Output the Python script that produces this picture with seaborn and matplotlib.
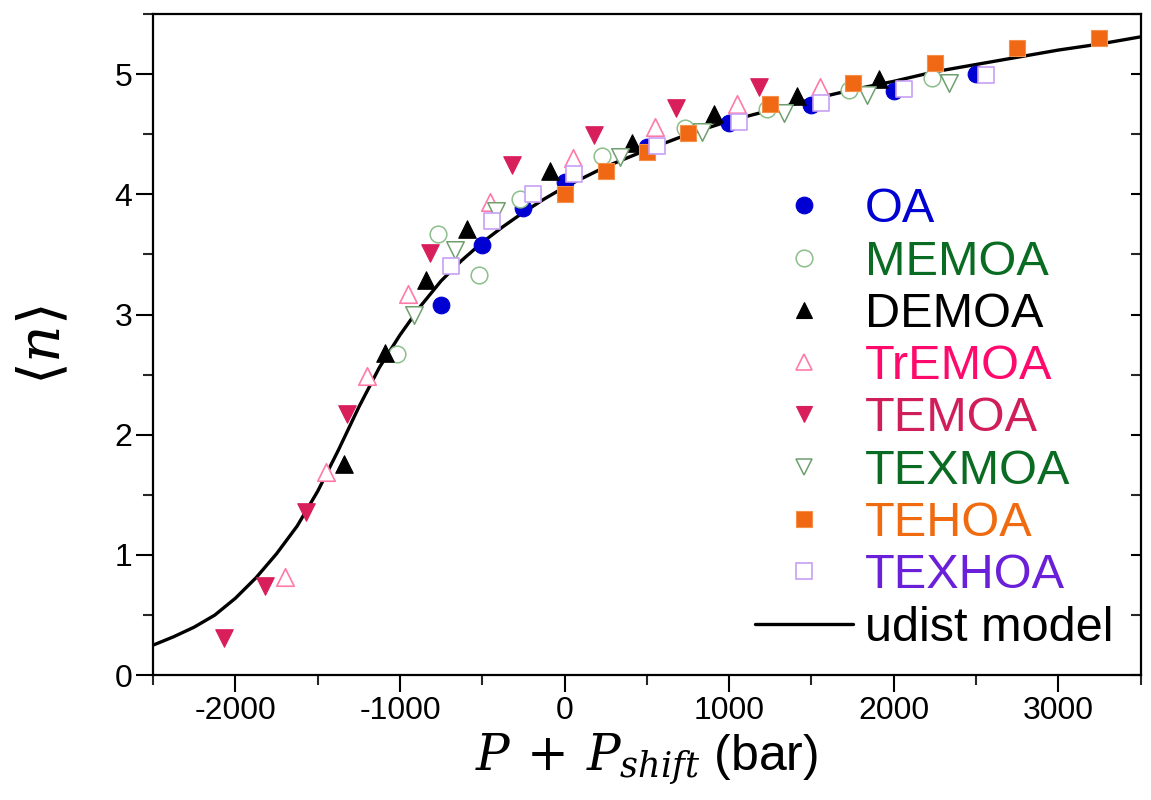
import matplotlib
matplotlib.use("Agg")
import matplotlib.pyplot as plt
import seaborn as sns
import pandas as pd
from matplotlib.lines import Line2D
from matplotlib.ticker import MultipleLocator

# ---------------- data ----------------
series_names = ["OA", "MEMOA", "DEMOA", "TrEMOA", "TEMOA", "TEXMOA", "TEHOA", "TEXHOA"]

OA_x = [-750, -500, -250, 0, 500, 1000, 1500, 2000, 2500]
OA_y = [3.08, 3.58, 3.89, 4.10, 4.39, 4.59, 4.74, 4.86, 5.00]

MEMOA_x = [-1020, -770, -520, -270, 230, 730, 1230, 1730, 2230]
MEMOA_y = [2.67, 3.67, 3.33, 3.96, 4.32, 4.55, 4.71, 4.87, 4.97]

DEMOA_x = [-1340, -1090, -840, -590, -90, 410, 910, 1410, 1910]
DEMOA_y = [1.76, 2.68, 3.29, 3.71, 4.19, 4.43, 4.67, 4.82, 4.96]

TrEMOA_x = [-1700, -1450, -1200, -950, -450, 50, 550, 1050, 1550]
TrEMOA_y = [0.82, 1.69, 2.49, 3.17, 3.94, 4.30, 4.56, 4.75, 4.89]

TEMOA_x = [-2070, -1820, -1570, -1320, -820, -320, 180, 680, 1180]
TEMOA_y = [0.31, 0.74, 1.36, 2.17, 3.51, 4.24, 4.49, 4.72, 4.89]

TEXMOA_x = [-915, -665, -415, 335, 835, 1335, 1835, 2335]
TEXMOA_y = [3.00, 3.54, 3.86, 4.31, 4.52, 4.68, 4.83, 4.93]

TEHOA_x = [0, 250, 500, 750, 1250, 1750, 2250, 2750, 3250]
TEHOA_y = [4.00, 4.19, 4.35, 4.51, 4.75, 4.93, 5.09, 5.22, 5.30]

TEXHOA_x = [-690, -440, -190, 60, 560, 1060, 1560, 2060, 2560]
TEXHOA_y = [3.40, 3.78, 4.00, 4.17, 4.40, 4.60, 4.76, 4.88, 4.99]

model_x = [-2500, -2375, -2250, -2125, -2000, -1875, -1750, -1625, -1500, -1375,
           -1250, -1125, -1000, -875, -750, -625, -500, -375, -250, -125, 0,
           250, 500, 750, 1000, 1250, 1500, 1750, 2000, 2250, 2500, 2750, 3000,
           3250, 3500]
model_y = [0.25, 0.32, 0.40, 0.50, 0.64, 0.81, 1.01, 1.24, 1.53, 1.87,
           2.23, 2.56, 2.83, 3.07, 3.28, 3.45, 3.60, 3.73, 3.85, 3.96, 4.06,
           4.23, 4.37, 4.50, 4.61, 4.70, 4.79, 4.87, 4.94, 5.02, 5.08, 5.14, 5.20,
           5.25, 5.31]
model_label = "udist model"

x_ticks = [-2000, -1000, 0, 1000, 2000, 3000]
y_ticks = [0, 1, 2, 3, 4, 5]

# ---------------- styles ----------------
styles = {
    "OA":     dict(marker="o", fc="#0000d2", ec="#0000d2", lw=0.8, txt="#0000d2"),
    "MEMOA":  dict(marker="o", fc="white",   ec="#8cbf8c", lw=1.1, txt="#0a6b22"),
    "DEMOA":  dict(marker="^", fc="black",   ec="black",   lw=0.8, txt="black"),
    "TrEMOA": dict(marker="^", fc="white",   ec="#ff7aa8", lw=1.2, txt="#ff0a6c"),
    "TEMOA":  dict(marker="v", fc="#d81e5b", ec="#d81e5b", lw=0.8, txt="#d01e5a"),
    "TEXMOA": dict(marker="v", fc="white",   ec="#6f9f6f", lw=1.1, txt="#0a6b22"),
    "TEHOA":  dict(marker="s", fc="#f06813", ec="#f5904a", lw=0.8, txt="#f06a10"),
    "TEXHOA": dict(marker="s", fc="white",   ec="#c8a0f5", lw=1.2, txt="#6a1fd8"),
}
data = {
    "OA": (OA_x, OA_y), "MEMOA": (MEMOA_x, MEMOA_y), "DEMOA": (DEMOA_x, DEMOA_y),
    "TrEMOA": (TrEMOA_x, TrEMOA_y), "TEMOA": (TEMOA_x, TEMOA_y),
    "TEXMOA": (TEXMOA_x, TEXMOA_y), "TEHOA": (TEHOA_x, TEHOA_y),
    "TEXHOA": (TEXHOA_x, TEXHOA_y),
}

sns.set_theme(style="white")
plt.rcParams["font.family"] = ["Liberation Sans", "DejaVu Sans"]
plt.rcParams["mathtext.fontset"] = "dejavuserif"
plt.rcParams["axes.unicode_minus"] = False
plt.rcParams["text.color"] = "black"
plt.rcParams["axes.labelcolor"] = "black"

fig = plt.figure(figsize=(11.51, 8), dpi=100)
ax = fig.add_axes([0.133, 0.156, 0.858, 0.8265])

msize = 12
sns.lineplot(x=model_x, y=model_y, color="black", linewidth=2.4, ax=ax,
             sort=False, estimator=None, legend=False, zorder=1)

for i, name in enumerate(series_names):
    st = styles[name]
    xs, ys = data[name]
    df = pd.DataFrame({"x": xs, "y": ys})
    ms = msize if st["marker"] in ("o", "s") else msize * 1.05
    sns.scatterplot(data=df, x="x", y="y", marker=st["marker"], s=ms ** 2,
                    color=st["fc"], edgecolor=st["ec"], linewidth=st["lw"],
                    ax=ax, legend=False, zorder=3 + i)

ax.set_xlim(-2500, 3500)
ax.set_ylim(0, 5.5)
ax.set_xticks(x_ticks)
ax.set_yticks(y_ticks)
ax.xaxis.set_minor_locator(MultipleLocator(500))
ax.yaxis.set_minor_locator(MultipleLocator(0.5))
ax.xaxis.set_ticks_position("bottom")

for sp in ax.spines.values():
    sp.set_linewidth(1.6)
    sp.set_color("black")

ax.tick_params(axis="both", which="major", direction="out", length=12, width=1.5,
               labelsize=23, colors="black", pad=3)
ax.tick_params(axis="both", which="minor", direction="out", length=7, width=1.5)
ax.tick_params(axis="x", which="both", bottom=True, top=False, labeltop=False)
ax.tick_params(axis="y", which="both", left=True, right=True, labelright=False)
# right side ticks point inward
for t in ax.yaxis.get_major_ticks() + ax.yaxis.get_minor_ticks():
    t.tick2line.set_marker(matplotlib.lines.TICKLEFT)
    t.tick2line.set_markersize(7)

ax.set_xlabel(r"$P\, +\, P_{shift}$ (bar)", fontsize=36, labelpad=4, color="black")
ax.set_ylabel(r"$\langle n \rangle$", fontsize=42, labelpad=30, color="black")

handles = []
for name in series_names:
    st = styles[name]
    handles.append(Line2D([], [], linestyle="none", marker=st["marker"],
                          markersize=msize, markerfacecolor=st["fc"],
                          markeredgecolor=st["ec"], markeredgewidth=st["lw"]))
handles.append(Line2D([], [], color="black", linewidth=2.4))
labels = series_names + [model_label]

leg = ax.legend(handles, labels, loc="upper left", bbox_to_anchor=(0.61, 0.738),
                frameon=False, fontsize=35, handlelength=2.0, handletextpad=0.25,
                labelspacing=0.15, borderpad=0, borderaxespad=0)
for txt, name in zip(leg.get_texts(), series_names + ["model"]):
    txt.set_color(styles[name]["txt"] if name in styles else "black")

fig.savefig("out.png", dpi=100)
